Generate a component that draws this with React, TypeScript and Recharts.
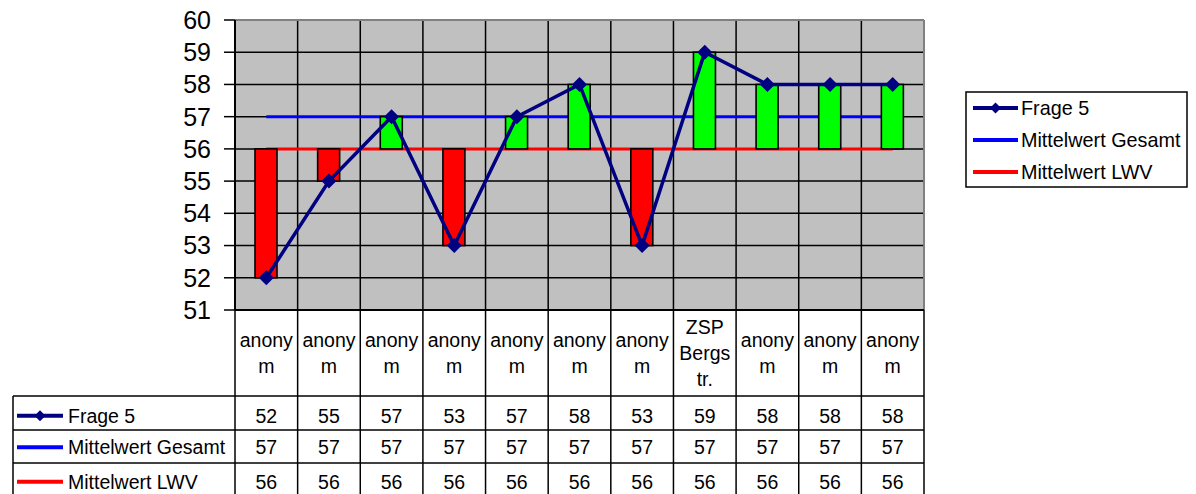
import React from 'react';
import { ComposedChart, Bar, Line, XAxis, YAxis, CartesianGrid } from 'recharts';

// Column headers (as wrapped in the data table)
const categories: string[] = [
  'anony\nm', 'anony\nm', 'anony\nm', 'anony\nm', 'anony\nm', 'anony\nm',
  'anony\nm', 'ZSP\nBergs\ntr.', 'anony\nm', 'anony\nm', 'anony\nm',
];

const frage5: number[] = [52, 55, 57, 53, 57, 58, 53, 59, 58, 58, 58];
const mittelwertGesamt: number[] = [57, 57, 57, 57, 57, 57, 57, 57, 57, 57, 57];
const mittelwertLWV: number[] = [56, 56, 56, 56, 56, 56, 56, 56, 56, 56, 56];

const yTicks: number[] = [51, 52, 53, 54, 55, 56, 57, 58, 59, 60];

const NAVY = '#000080';
const BLUE = '#0000FF';
const RED = '#FF0000';
const GREEN = '#00FF00';
const FONT = '"Liberation Sans", Arial, sans-serif';

const seriesRows = [
  { name: 'Frage 5', color: NAVY, values: frage5, marker: true },
  { name: 'Mittelwert Gesamt', color: BLUE, values: mittelwertGesamt, marker: false },
  { name: 'Mittelwert LWV', color: RED, values: mittelwertLWV, marker: false },
];

const data = categories.map((cat, i) => ({
  cat,
  frage: frage5[i],
  gesamt: mittelwertGesamt[i],
  lwv: mittelwertLWV[i],
  range: [mittelwertLWV[i], frage5[i]],
}));

// Up/down bar between Frage 5 and Mittelwert LWV: green above, red below
const UpDownBar = (props: any) => {
  const { x, y, width, height, payload } = props;
  if (x == null || y == null) return null;
  const top = height < 0 ? y + height : y;
  const h = Math.abs(height);
  const up = payload && payload.frage >= payload.lwv;
  return (
    <rect x={x} y={top} width={width} height={h} fill={up ? GREEN : RED} stroke="#000" strokeWidth={1.6} />
  );
};

const Diamond = (props: any) => {
  const { cx, cy } = props;
  if (cx == null || cy == null) return null;
  const r = 7.5;
  return (
    <path
      d={`M${cx},${cy - r} L${cx + r},${cy} L${cx},${cy + r} L${cx - r},${cy} Z`}
      fill={NAVY}
    />
  );
};

const KeySample = ({ x1, x2, y, color, marker }: any) => {
  const mid = (x1 + x2) / 2;
  const r = 5.5;
  return (
    <g>
      <line x1={x1} x2={x2} y1={y} y2={y} stroke={color} strokeWidth={4} />
      {marker && (
        <path d={`M${mid},${y - r} L${mid + r},${y} L${mid},${y + r} L${mid - r},${y} Z`} fill={color} />
      )}
    </g>
  );
};

// Row borders of the data table, relative to the axis line
const ROW_LINES = [86, 120, 153, 186];
const ROW_BASELINES = [112.5, 144, 178.5];
const TABLE_LEFT = 13;
const TABLE_FONT = 19.5;

const TableColumn = (props: any) => {
  const { x, y, payload, index, width, visibleTicksCount } = props;
  const count = visibleTicksCount || categories.length;
  const band = width ? width / count : 62.6;
  const left = x - band / 2;
  const right = x + band / 2;
  const lines = String(payload.value).split('\n');
  const lh = 26;
  const firstBase = lines.length === 3 ? 24 : 37;
  const stroke = '#000';
  return (
    <g fontFamily={FONT} fontSize={TABLE_FONT} fill="#000">
      {lines.map((t, k) => (
        <text key={k} x={x} y={y + firstBase + k * lh} textAnchor="middle">
          {t}
        </text>
      ))}
      {seriesRows.map((s, r) => (
        <text key={s.name} x={x} y={y + ROW_BASELINES[r]} textAnchor="middle">
          {s.values[index]}
        </text>
      ))}
      {ROW_LINES.map((d, k) => (
        <line key={k} x1={left} x2={right} y1={y + d} y2={y + d} stroke={stroke} strokeWidth={1.5} />
      ))}
      <line x1={right} x2={right} y1={y} y2={y + 190} stroke={stroke} strokeWidth={1.5} />
      {index === 0 && (
        <g>
          <line x1={left} x2={left} y1={y} y2={y + 190} stroke={stroke} strokeWidth={1.5} />
          {ROW_LINES.map((d, k) => (
            <line key={k} x1={TABLE_LEFT} x2={left} y1={y + d} y2={y + d} stroke={stroke} strokeWidth={1.5} />
          ))}
          <line x1={TABLE_LEFT} x2={TABLE_LEFT} y1={y + ROW_LINES[0]} y2={y + 190} stroke={stroke} strokeWidth={1.5} />
          {seriesRows.map((s, r) => (
            <g key={s.name}>
              <KeySample x1={17} x2={63} y={y + ROW_BASELINES[r] - 6.8} color={s.color} marker={s.marker} />
              <text x={68} y={y + ROW_BASELINES[r]} textAnchor="start">
                {s.name}
              </text>
            </g>
          ))}
        </g>
      )}
    </g>
  );
};

const ChartLegend = () => (
  <svg
    width={230}
    height={100}
    style={{ position: 'absolute', left: 962, top: 89 }}
    fontFamily={FONT}
  >
    <rect x={4} y={3} width={221} height={95} fill="#fff" stroke="#000" strokeWidth={1.5} />
    {seriesRows.map((s, i) => {
      const cy = 19 + i * 32;
      return (
        <g key={s.name}>
          <KeySample x1={11} x2={56} y={cy} color={s.color} marker={s.marker} />
          <text x={59} y={cy + 7} fontSize={19.8} fill="#000">
            {s.name}
          </text>
        </g>
      );
    })}
  </svg>
);

export default function App() {
  const n = categories.length;
  return (
    <div style={{ position: 'absolute', left: 0, top: 0, width: 1196, height: 494, background: '#fff' }}>
      <ComposedChart
        width={1196}
        height={494}
        data={data}
        margin={{ top: 20, right: 272, left: 0, bottom: 0 }}
        barCategoryGap={0}
      >
        <CartesianGrid
          fill="#C0C0C0"
          fillOpacity={1}
          stroke="#000"
          strokeWidth={1.5}
          horizontalValues={yTicks.slice(0, -1)}
          verticalCoordinatesGenerator={({ offset }: any) =>
            Array.from({ length: n - 1 }, (_, k) => offset.left + ((k + 1) * offset.width) / n)
          }
        />
        <CartesianGrid
          fill="none"
          stroke="#808080"
          strokeWidth={2}
          horizontalCoordinatesGenerator={({ offset }: any) => [offset.top]}
          verticalCoordinatesGenerator={({ offset }: any) => [offset.left + offset.width]}
        />
        <XAxis
          dataKey="cat"
          interval={0}
          height={184}
          tickSize={0}
          tickMargin={0}
          tickLine={false}
          axisLine={{ stroke: '#000', strokeWidth: 2 }}
          tick={<TableColumn />}
        />
        <YAxis
          type="number"
          domain={[51, 60]}
          ticks={yTicks}
          interval={0}
          width={235}
          tickSize={11}
          tickMargin={13}
          tickLine={{ stroke: '#000', strokeWidth: 1.5 }}
          axisLine={{ stroke: '#000', strokeWidth: 2 }}
          tick={{ fill: '#000', fontSize: 25, fontFamily: FONT }}
        />
        <Line
          dataKey="gesamt"
          stroke={BLUE}
          strokeWidth={3}
          dot={false}
          activeDot={false}
          isAnimationActive={false}
          zIndex={250}
        />
        <Line
          dataKey="lwv"
          stroke={RED}
          strokeWidth={3}
          dot={false}
          activeDot={false}
          isAnimationActive={false}
          zIndex={250}
        />
        <Bar
          dataKey="range"
          barSize={22}
          shape={<UpDownBar />}
          isAnimationActive={false}
          zIndex={300}
        />
        <Line
          dataKey="frage"
          stroke={NAVY}
          strokeWidth={3.5}
          dot={<Diamond />}
          activeDot={false}
          isAnimationActive={false}
          zIndex={400}
        />
      </ComposedChart>
      <ChartLegend />
    </div>
  );
}
